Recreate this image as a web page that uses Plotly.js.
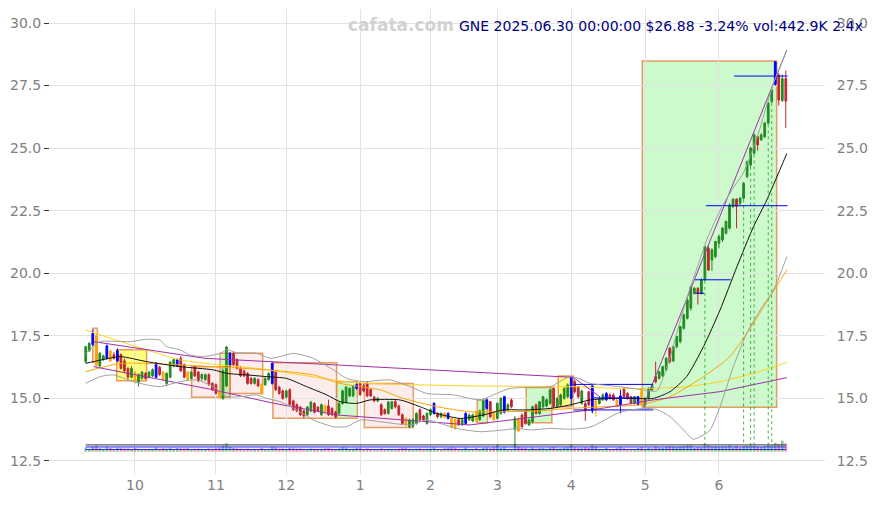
<!DOCTYPE html>
<html><head><meta charset="utf-8">
<script src="https://cdn.plot.ly/plotly-3.0.1.min.js"></script>
<style>html,body{margin:0;padding:0;background:#fff}#chart{width:875px;height:505px}</style>
</head><body><div id="chart"></div>
<script>
// ---- calendar ----
const startDate = '2024-09-11', endDate = '2025-06-30';
const holidays = ['2024-11-28','2024-12-25','2025-01-01','2025-01-09','2025-01-20','2025-02-17','2025-04-18','2025-05-26','2025-06-19'];
function buildTradingDays(s, e, hol) {
  const out = []; const d = new Date(s + 'T00:00:00Z'); const end = new Date(e + 'T00:00:00Z');
  while (d <= end) {
    const wd = d.getUTCDay(); const t = d.toISOString().slice(0, 10);
    if (wd !== 0 && wd !== 6 && !hol.includes(t)) out.push(t);
    d.setUTCDate(d.getUTCDate() + 1);
  }
  return out;
}
const dates = buildTradingDays(startDate, endDate, holidays);

// ---- OHLC ----
const open = [
16.47,16.90,17.15,17.50,16.30,16.55,16.60,16.90,16.75,16.50,
16.75,16.50,16.20,15.85,16.05,15.65,15.80,16.00,15.85,15.90,
15.85,16.25,16.05,15.60,15.85,16.30,16.30,16.60,16.35,16.05,
15.80,16.25,16.05,15.80,15.75,15.95,15.60,15.55,15.30,15.00,
15.50,16.30,16.80,16.55,16.20,16.10,16.00,15.80,15.60,15.75,
15.55,15.55,15.75,15.60,16.05,15.45,15.30,15.05,15.35,14.90,
14.75,14.65,14.50,14.35,14.50,14.80,14.65,14.35,14.70,14.70,
14.60,14.45,14.40,14.80,14.85,15.10,15.10,15.40,15.60,15.50,
15.60,15.35,15.05,14.90,14.75,14.55,14.40,14.60,14.87,14.70,
14.35,14.20,13.87,13.90,14.00,14.55,14.30,14.00,14.35,14.40,
14.40,14.27,14.40,14.20,14.20,14.15,14.15,13.95,14.00,14.15,
14.10,14.45,14.15,14.30,14.60,14.87,14.40,14.20,14.40,14.45,
14.55,14.94,13.75,14.20,14.34,14.47,13.94,14.07,14.74,14.40,
14.67,14.70,14.80,15.40,14.67,14.74,15.00,15.07,15.00,15.67,
15.47,14.80,14.80,15.27,14.50,14.90,14.80,14.94,14.95,15.14,
15.14,14.94,14.75,15.40,15.20,15.07,14.80,14.75,15.30,14.74,
15.00,15.34,15.87,15.80,15.90,16.14,17.00,16.50,17.07,17.27,
17.80,18.20,18.60,19.20,19.40,19.20,19.73,21.00,20.53,20.67,
21.20,21.33,21.60,21.80,22.67,22.96,22.80,23.00,23.86,24.33,
24.80,25.46,25.33,25.46,26.00,26.86,27.55,27.92,26.90,27.78];
const high = [
17.10,17.25,17.75,17.60,16.85,16.75,17.15,16.95,16.85,17.00,
16.80,16.60,16.25,16.30,16.10,16.00,16.10,16.05,16.10,16.20,
16.45,16.30,16.10,16.05,16.50,16.60,16.60,16.70,16.40,16.10,
16.10,16.30,16.10,16.00,16.00,16.00,15.65,15.60,15.35,16.20,
17.10,16.85,16.85,16.60,16.30,16.15,16.05,15.85,15.85,15.80,
15.60,15.85,16.05,16.45,16.10,15.50,15.35,15.35,15.40,14.95,
14.80,14.70,14.55,14.70,14.90,14.85,14.70,14.80,14.75,14.95,
14.65,14.50,14.85,15.35,15.50,15.45,15.50,15.60,15.65,15.60,
15.65,15.40,15.10,15.05,14.80,14.60,14.90,14.90,14.95,14.75,
14.40,14.25,14.20,14.20,14.45,14.60,14.35,14.45,14.60,14.85,
14.45,14.45,14.45,14.45,14.25,14.20,14.20,14.20,14.45,14.40,
14.40,14.50,14.55,14.95,15.00,14.90,14.45,14.85,15.05,15.10,
14.80,15.00,14.30,14.25,14.40,14.50,14.20,14.70,14.80,14.90,
15.10,15.00,15.40,15.45,15.05,15.20,15.45,15.60,15.90,15.75,
15.50,15.35,14.85,15.30,15.55,15.00,15.05,15.20,15.25,15.20,
15.20,15.00,15.35,15.45,15.25,15.10,15.10,15.10,15.40,15.05,
15.45,15.55,16.47,16.10,16.30,16.65,17.05,17.10,17.50,17.90,
18.40,19.00,19.50,19.45,19.45,19.80,21.10,21.10,21.00,21.30,
21.55,21.85,22.10,22.80,23.00,23.00,23.05,23.65,24.50,25.05,
25.60,25.50,25.60,26.05,26.85,27.40,28.48,28.00,27.95,28.10];
const low = [
16.40,16.85,17.10,16.25,16.25,16.50,16.55,16.45,16.55,16.45,
16.15,16.00,15.75,15.80,15.60,15.47,15.75,15.75,15.80,15.85,
15.80,15.90,15.70,15.50,15.80,16.25,16.25,16.05,15.80,15.70,
15.75,15.85,15.65,15.70,15.70,15.50,15.30,15.15,15.00,14.95,
15.45,16.25,16.30,16.15,15.85,15.85,15.55,15.55,15.55,15.45,
15.15,15.50,15.70,15.55,15.30,15.15,14.95,15.00,14.70,14.50,
14.45,14.30,14.20,14.30,14.45,14.40,14.45,14.30,14.40,14.30,
14.30,14.20,14.35,14.75,14.80,15.05,15.05,15.35,15.10,15.25,
15.05,15.05,14.85,14.85,14.30,14.35,14.35,14.55,14.60,14.30,
13.95,13.90,13.80,13.85,13.95,14.10,14.10,13.95,14.30,14.35,
14.20,14.20,14.20,14.15,13.80,13.75,13.90,13.90,13.95,14.10,
14.05,14.05,14.10,14.25,14.55,14.20,14.10,14.15,14.35,14.40,
14.50,14.60,13.05,13.65,13.80,13.95,13.90,14.00,14.35,14.35,
14.60,14.65,14.75,14.60,14.60,14.70,14.95,15.00,14.70,15.20,
15.00,14.75,14.10,14.70,14.40,14.27,14.75,14.90,14.90,14.95,
14.90,14.65,14.40,15.00,14.95,14.75,14.75,14.70,14.70,14.60,
14.95,15.30,15.60,15.75,15.85,16.10,16.40,16.45,17.00,17.20,
17.75,18.15,18.50,19.15,18.75,19.15,19.70,20.10,20.10,20.60,
21.00,21.25,21.55,21.75,22.60,21.80,22.70,22.95,23.80,24.25,
24.75,24.90,25.30,25.40,25.95,26.80,27.50,26.70,26.85,25.80];
const close = [
17.07,17.20,17.60,16.30,16.80,16.70,17.10,16.50,16.60,16.90,
16.20,16.10,15.85,16.20,15.70,15.95,16.05,15.80,16.05,16.15,
16.40,15.95,15.75,16.00,16.45,16.55,16.55,16.10,15.85,15.75,
16.05,15.90,15.70,15.95,15.95,15.55,15.35,15.20,15.07,16.10,
17.05,16.80,16.35,16.20,15.90,15.90,15.60,15.60,15.80,15.50,
15.20,15.80,16.00,16.40,15.35,15.20,15.00,15.30,14.75,14.55,
14.50,14.35,14.30,14.65,14.85,14.45,14.50,14.75,14.45,14.35,
14.35,14.27,14.80,15.30,15.45,15.40,15.47,15.55,15.15,15.30,
15.10,15.10,14.90,15.00,14.35,14.40,14.85,14.87,14.67,14.35,
14.00,13.95,14.14,14.15,14.40,14.15,14.15,14.40,14.55,14.80,
14.27,14.40,14.25,14.40,13.87,13.80,13.95,14.15,14.40,14.34,
14.34,14.10,14.50,14.90,14.94,14.27,14.14,14.80,15.00,15.07,
14.75,14.67,14.20,13.70,13.87,14.00,14.14,14.67,14.40,14.87,
15.07,14.95,15.34,14.67,15.00,15.14,15.40,15.54,15.87,15.27,
15.07,15.30,14.50,14.74,15.50,14.55,15.00,15.14,15.20,15.00,
14.94,14.70,15.10,15.07,15.00,14.80,15.07,15.07,14.75,15.00,
15.40,15.50,15.67,16.07,16.27,16.60,16.47,17.07,17.47,17.87,
18.33,18.93,19.47,19.40,19.20,19.73,21.07,20.13,20.94,21.27,
21.47,21.80,22.07,22.73,22.96,22.67,23.00,23.60,24.46,25.00,
25.53,25.13,25.53,26.00,26.80,27.32,28.45,26.92,27.78,26.88];
const volume = [
210,150,260,320,180,120,240,200,130,220,
190,160,170,120,200,150,110,100,130,140,
230,150,190,160,210,140,200,180,170,190,
120,150,160,110,120,170,150,180,220,330,
450,260,200,170,150,120,160,110,100,130,
190,120,140,260,230,160,170,110,210,180,
160,170,150,130,170,150,110,150,180,190,
150,140,170,240,220,150,160,200,210,130,
170,140,120,100,180,120,150,130,120,160,
190,210,150,120,160,170,110,150,160,230,
120,110,180,200,230,220,150,120,220,130,
120,190,140,200,230,180,240,380,200,240,
130,140,420,260,210,190,150,220,160,190,
200,150,230,250,160,170,210,240,380,230,
190,180,230,210,330,280,140,130,210,120,
130,190,260,180,140,150,120,200,240,150,
210,170,290,220,200,260,300,270,250,280,
300,330,350,200,240,230,420,330,260,280,
250,270,280,340,230,300,220,290,330,340,
320,260,240,300,360,330,470,410,580,442.9];

// highlighted candles
const blueIdx = [2,6,9,20,26,41,53,77,99,103,108,114,119,138,144,148,152,157,196];
const orangeIdx = [3,7,14,22,29,38,50,68,91,102,104,105,111,116,123,145,151,158];

// ---- indicator lines (index, value) ----
const maBlackX = [0,2.2,9.8,17.3,26.8,36.3,40.1,45.8,51.5,57.1,62.8,68.5,72.3,77,80.8,89.3,95,99.8,106.4,113,118.7,125.4,132,137.7,143.4,149,156.6,161.3,166.1,170.8,175.6,180.3,185.1,189.8,193.6,199.3];
const maBlackY = [16.4,16.47,16.67,16.47,16.27,16.14,16.0,15.94,15.87,15.8,15.47,15.14,14.87,14.8,14.94,14.94,14.67,14.4,14.2,14.34,14.54,14.54,14.6,14.74,14.94,15.0,15.0,15.0,15.27,15.87,17.07,18.53,20.26,21.86,22.93,24.79];
const maOrangeX = [0,9.8,26.8,36.3,51.5,64.7,72.3,83.7,90.3,99.8,109.2,118.7,128.2,137.7,147.1,157.5,166.1,175.6,183.1,189.8,194.5,199.3];
const maOrangeY = [16.07,16.4,16.34,16.27,16.14,15.94,15.6,15.34,15.0,14.67,14.47,14.47,14.5,14.6,14.67,14.74,15.07,15.87,16.67,18.0,19.07,20.13];
const maYellowX = [0,17.3,26.8,38.2,51.5,71.3,80.8,109.2,137.7,152,161.3,170.8,180.3,189.8,199.3];
const maYellowY = [17.73,16.94,16.54,16.34,16.15,15.72,15.6,15.5,15.47,15.4,15.4,15.47,15.67,16.0,16.44];
const bandUpX = [0,2.2,4.1,12.6,17.3,21.1,23,26.8,29.6,33.4,38.2,40.1,42.9,48.6,52.4,55.2,59,64.7,70.4,74.2,78.9,86.5,92.2,96.9,104.5,112.1,116.8,120.6,132,133.9,137.7,140.5,143.4,151.9,158.5,162.3,166,168,170,172,174,176.5,181,184,186.9,191,195.5,199.3];
const bandUpY = [16.8,17.07,17.27,17.27,17.36,17.33,17.07,16.94,16.74,16.67,16.8,16.94,16.83,16.8,16.6,16.67,16.8,16.6,16.14,15.8,15.67,15.74,15.47,15.2,15.14,14.94,15.2,15.4,15.47,15.6,15.87,15.78,15.6,15.47,15.34,15.3,16.6,17.6,18.6,19.5,20.3,21.33,22.7,23.4,24.0,25.5,27.6,28.92];
const bandLowX = [0,4.1,7.8,13.5,17.3,21.1,26.8,31.6,36.3,40.1,43.9,48.6,51.5,55.2,60,64.7,70.4,74.2,78,83.7,92.2,96.9,100.7,105.5,112.1,118.7,122.5,126.3,132,137.7,143.4,147,151.9,158.5,162.3,166.1,169.9,172.7,175.6,177.5,180.3,184.1,187.9,191.7,195.5,199.3];
const bandLowY = [15.6,15.87,15.94,15.67,15.54,15.47,15.67,15.74,15.47,15.07,15.07,15.14,15.0,14.87,14.54,14.14,13.87,13.87,14.14,14.07,13.94,14.14,14.0,13.8,13.67,13.74,13.8,13.74,13.8,13.77,13.85,14.1,14.45,14.6,14.56,14.27,13.74,13.37,13.54,13.74,14.67,16.27,17.6,18.53,19.33,20.66];

// trend lines (purple)
const trendUpX = [2.2,33.9,70.9,138.6,146.2];
const trendUpY = [17.27,16.6,16.34,15.84,15.06];
const trendLowX = [2.2,35.3,53.3,71.3,83.7,109.2,128.2,147.1,161.3,180.3,199.3];
const trendLowY = [16.27,15.37,14.81,14.34,14.21,13.94,14.27,14.61,14.94,15.27,15.83];
const trendSteepX = [158.5,199.3];
const trendSteepY = [14.67,28.92];

// blue levels
const levelX0 = [138.6,138.6,144.3,173.2,173.2,176.3,184.3];
const levelX1 = [161.3,161.3,157.1,183.3,175.8,199.5,199.5];
const levelY  = [15.56,14.54,15.02,19.74,19.20,22.70,27.88];

// signal markers (dotted verticals)
const signalIdx = [176,187,189,190,194,195];
const signalBase = 13.14;

// consolidation boxes
const boxX0 = [2.0,8.8,30.1,38.2,41.0,53.2,71.3,79.2,111.3,125.2,134.3,158.2];
const boxX1 = [3.3,17.3,41.0,41.0,50.3,71.3,77.2,93.1,114.2,132.5,138.6,196.4];
const boxY0 = [16.45,15.71,15.05,15.0,15.2,14.21,14.21,13.84,14.03,14.03,14.67,14.65];
const boxY1 = [17.8,16.94,16.27,16.8,16.8,16.43,15.67,15.6,14.94,15.44,15.9,28.48];
const boxKind = ['p','y','p','g','p','p','g','p','g','g','y','g'];

// volume reference lines
const volRefBlack = 360, volRefBlue1 = 250, volRefBlue2 = 120;

const yTicks = [12.5,15,17.5,20,22.5,25,27.5,30];

// ---- build ----
const idx = dates.map((d, i) => i);
const tickvals = [], ticktext = [];
for (let i = 1; i < dates.length; i++) {
  if (dates[i].slice(5, 7) !== dates[i - 1].slice(5, 7)) {
    tickvals.push(i); ticktext.push(String(parseInt(dates[i].slice(5, 7), 10)));
  }
}
const special = new Set(blueIdx.concat(orangeIdx));
const mainI = idx.filter(i => !special.has(i));
function sub(arr, ids) { return ids.map(i => arr[i]); }
function candle(ids, inc, dec, incFill, decFill) {
  return {type: 'candlestick', x: ids, open: sub(open, ids), high: sub(high, ids), low: sub(low, ids), close: sub(close, ids),
    increasing: {line: {color: inc, width: 1}, fillcolor: incFill},
    decreasing: {line: {color: dec, width: 1}, fillcolor: decFill},
    whiskerwidth: 0, hoverinfo: 'skip', showlegend: false};
}
function line(x, y, color, extra) {
  return Object.assign({type: 'scatter', mode: 'lines', x: x, y: y, line: {color: color, width: 1}, hoverinfo: 'skip', showlegend: false}, extra || {});
}

const traces = [];
// volume reference lines then bars
const lastI = idx[idx.length - 1];
traces.push(line([0, lastI], [volRefBlack, volRefBlack], '#333333', {yaxis: 'y3'}));
traces.push(line([0, lastI], [volRefBlue1, volRefBlue1], '#2020ff', {yaxis: 'y3'}));
traces.push(line([0, lastI], [volRefBlue2, volRefBlue2], '#2020ff', {yaxis: 'y3'}));
traces.push({type: 'bar', x: idx, y: volume, yaxis: 'y3', width: 0.75,
  marker: {color: idx.map(i => close[i] >= open[i] ? 'rgba(34,139,34,0.5)' : 'rgba(205,50,80,0.5)'), line: {width: 0}},
  hoverinfo: 'skip', showlegend: false});

// indicators
traces.push(line(maYellowX, maYellowY, '#ffd21a', {line: {color: '#ffd21a', width: 1, shape: 'spline', smoothing: 0.6}}));
traces.push(line(maOrangeX, maOrangeY, '#ffa500', {line: {color: '#ffa500', width: 1, shape: 'spline', smoothing: 0.6}}));
traces.push(line(maBlackX, maBlackY, '#111111', {line: {color: '#111111', width: 1, shape: 'spline', smoothing: 0.6}}));

// trends
traces.push(line(trendUpX, trendUpY, '#a030a8'));
traces.push(line(trendLowX, trendLowY, '#a030a8'));
traces.push(line(trendSteepX, trendSteepY, '#a030a8'));

// signals
signalIdx.forEach(i => traces.push(line([i, i], [low[i], signalBase], 'rgba(30,160,30,0.8)', {line: {color: 'rgba(30,160,30,0.8)', width: 1, dash: 'dot'}})));

// candles
traces.push(candle(mainI, '#228b22', '#c0262d', '#228b22', '#c0262d'));
traces.push(candle(blueIdx, '#0000ff', '#0000ff', '#0000ff', '#0000ff'));
traces.push(candle(orangeIdx, '#ffa500', '#ffa500', '#ffa500', '#ffa500'));

// levels
levelY.forEach((v, k) => traces.push(line([levelX0[k], levelX1[k]], [v, v], '#0000ff')));

// bands (on mirrored right axis)
traces.push(line(bandUpX, bandUpY, '#a0a0a0', {yaxis: 'y2', line: {color: '#a0a0a0', width: 1, shape: 'spline', smoothing: 0.6}}));
traces.push(line(bandLowX, bandLowY, '#a0a0a0', {yaxis: 'y2', line: {color: '#a0a0a0', width: 1, shape: 'spline', smoothing: 0.6}}));

const fills = {p: 'rgba(240,128,128,0.15)', y: 'rgba(255,255,0,0.5)', g: 'rgba(0,230,0,0.2)'};
const shapes = boxKind.map((k, j) => ({type: 'rect', xref: 'x', yref: 'y', layer: 'below',
  x0: boxX0[j], x1: boxX1[j], y0: boxY0[j], y1: boxY1[j],
  fillcolor: fills[k], line: {color: 'rgba(228,140,70,0.85)', width: 1.5}}));

const yRange = [11.94, 30.56];
const tickFont = {family: 'DejaVu Sans', size: 14, color: '#808080'};
const layout = {
  width: 875, height: 505,
  margin: {l: 50, r: 50, t: 9, b: 30, pad: 0},
  paper_bgcolor: '#ffffff', plot_bgcolor: '#ffffff',
  showlegend: false, hovermode: false,
  font: {family: 'DejaVu Sans', size: 14, color: '#808080'},
  xaxis: {range: [-10.16, 210.14], tickvals: tickvals, ticktext: ticktext, showgrid: true, gridcolor: '#e2e2e2', gridwidth: 1,
    zeroline: false, showline: false, ticks: '', tickfont: tickFont,
    rangeslider: {visible: false}, fixedrange: true},
  yaxis: {range: yRange, tickvals: yTicks, tickformat: '.1f', showgrid: true, gridcolor: '#e2e2e2', gridwidth: 1,
    zeroline: false, showline: false, ticks: 'outside', ticklen: 5, tickcolor: '#333333', tickfont: tickFont, fixedrange: true},
  yaxis2: {range: yRange, overlaying: 'y', side: 'right', tickvals: yTicks, tickformat: '.1f', showgrid: false,
    zeroline: false, showline: false, ticks: 'outside', ticklen: 8, tickcolor: 'rgba(0,0,0,0)', tickfont: tickFont, fixedrange: true},
  yaxis3: {range: [-1235, 23465], overlaying: 'y', visible: false, fixedrange: true},
  shapes: shapes,
  annotations: [
    {xref: 'paper', yref: 'paper', x: 0.453, y: 0.9657, xanchor: 'center', yanchor: 'middle', showarrow: false,
      text: '<b>cafata.com</b>', font: {family: 'DejaVu Sans', size: 17, color: '#d2d2d2'}},
    {xref: 'paper', yref: 'paper', x: 1.0516, y: 0.9635, xanchor: 'right', yanchor: 'middle', showarrow: false,
      text: 'GNE 2025.06.30 00:00:00 $26.88 -3.24% vol:442.9K 2.4x', font: {family: 'DejaVu Sans', size: 14, color: '#000080'}}
  ]
};
Plotly.newPlot('chart', traces, layout, {staticPlot: true, displayModeBar: false});
</script>
</body></html>
